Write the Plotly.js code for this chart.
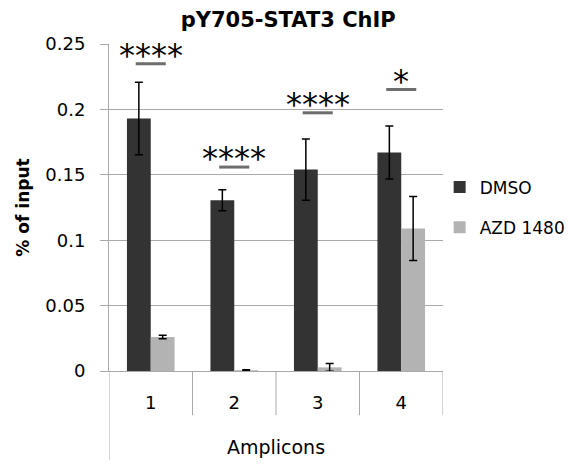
<!DOCTYPE html>
<html>
<head>
<meta charset="utf-8">
<script src="https://cdn.plot.ly/plotly-3.0.1.min.js"></script>
<style>html,body{margin:0;padding:0;background:#fff;}#chart{width:573px;height:464px;}</style>
</head>
<body>
<div id="chart"></div>
<script>
const categories = ['1', '2', '3', '4'];
const dmsoValues = [0.193, 0.1305, 0.154, 0.167];
const dmsoErrors = [0.0277, 0.008, 0.0234, 0.0203];
const azdValues = [0.026, 0.0006, 0.0028, 0.109];
const azdErrors = [0.0014, 0.0003, 0.003, 0.0245];
const sigLabels = ['****', '****', '****', '*'];
const sigLineY = [0.2349, 0.1559, 0.1974, 0.2152];
const yTickVals = [0, 0.05, 0.1, 0.15, 0.2, 0.25];
const yTickText = ['0', '0.05', '0.1', '0.15', '0.2', '0.25'];

const FONT = '"DejaVu Sans", sans-serif';
const GRID = '#a9a9a9';

const traces = [
  {
    type: 'bar', name: 'DMSO', x: categories, y: dmsoValues,
    marker: {color: '#333333'},
    error_y: {type: 'data', array: dmsoErrors, visible: true, color: '#000', thickness: 1.5, width: 4},
    legendgroup: 'a'
  },
  {
    type: 'bar', name: 'AZD 1480', x: categories, y: azdValues,
    marker: {color: '#b3b3b3'},
    error_y: {type: 'data', array: azdErrors, visible: true, color: '#000', thickness: 1.5, width: 4},
    legendgroup: 'b'
  }
];

const shapes = [];
const annotations = [];
categories.forEach((c, i) => {
  shapes.push({type: 'line', xref: 'x', yref: 'y', x0: i - 0.18, x1: i + 0.18, y0: sigLineY[i], y1: sigLineY[i],
    line: {color: '#6e6e6e', width: 3}});
  annotations.push({xref: 'x', yref: 'y', x: i, y: sigLineY[i], text: sigLabels[i], showarrow: false,
    yanchor: 'middle', yshift: 9, font: {family: FONT, size: 32, color: '#000'}});
});
// category table dividers below axis
for (let k = 0; k <= categories.length; k++) {
  shapes.push({type: 'line', xref: 'x', yref: 'paper', x0: k - 0.5, x1: k - 0.5, y0: 0,
    y1: k === 0 ? -0.273 : -0.135, line: {color: GRID, width: 1}});
}

const layout = {
  width: 573, height: 464,
  margin: {l: 109, r: 130, t: 44, b: 93, pad: 0, autoexpand: false},
  paper_bgcolor: '#fff', plot_bgcolor: '#fff',
  font: {family: FONT, size: 18, color: '#000'},
  title: {text: '<b>pY705-STAT3 ChIP</b>', font: {family: FONT, size: 21, color: '#000'},
    x: 0.503, xanchor: 'center', y: 0.957, yanchor: 'middle'},
  barmode: 'group', bargap: 0.43, bargroupgap: 0,
  showlegend: true,
  legend: {x: 0.99, xanchor: 'left', y: 0.5, yanchor: 'middle', font: {family: FONT, size: 17},
    traceorder: 'grouped', tracegroupgap: 15, bgcolor: 'rgba(0,0,0,0)'},
  xaxis: {type: 'category', range: [-0.5, 3.5], showgrid: false, showline: true, linecolor: GRID, linewidth: 1,
    ticks: '', ticklabelstandoff: 15, tickfont: {family: FONT, size: 18},
    title: {text: 'Amplicons', standoff: 29, font: {family: FONT, size: 19}}, zeroline: false, fixedrange: true},
  yaxis: {range: [0, 0.25], tickvals: yTickVals, ticktext: yTickText, showgrid: true, gridcolor: GRID, gridwidth: 1,
    showline: true, linecolor: GRID, linewidth: 1, ticks: 'outside', ticklen: 8, tickcolor: GRID,
    ticklabelstandoff: 11, tickfont: {family: FONT, size: 18}, zeroline: false,
    title: {text: '<b>% of input</b>', standoff: 11, font: {family: FONT, size: 17}}},
  shapes: shapes,
  annotations: annotations
};

Plotly.newPlot('chart', traces, layout, {displayModeBar: false, staticPlot: true});
</script>
</body>
</html>
